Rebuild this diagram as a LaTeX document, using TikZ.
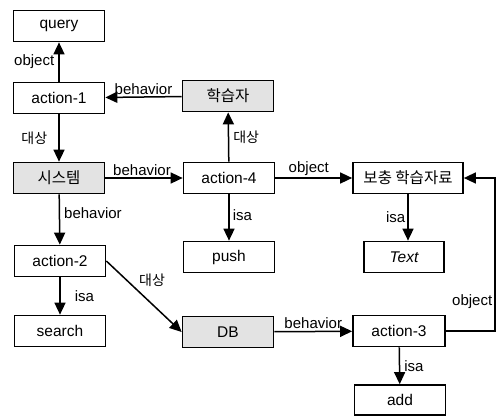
\documentclass[tikz,border=0pt]{standalone}
\usepackage{fontspec}
\setmainfont{Liberation Sans}
\newfontfamily\krfont{Noto Sans CJK KR}
\usetikzlibrary{arrows.meta}
\begin{document}
\begin{tikzpicture}[x=1pt,y=-1pt,
  box/.style={draw,line width=1.7pt,minimum width=91pt,minimum height=31pt,inner sep=0pt,font=\fontsize{15.5}{17}\selectfont,fill=white},
  shaded/.style={box,fill=gray!22},
  arr/.style={line width=1.5pt,-{Triangle[length=12pt,width=11pt]}},
  lbl/.style={font=\fontsize{15}{17}\selectfont,inner sep=2pt},
  klbl/.style={font=\fontsize{14}{17}\selectfont\krfont,inner sep=2pt}]
\useasboundingbox (0,0) rectangle (500,416);
% left column
\node[box] (query) at (59,26) {query};
\node[box] (a1) at (59,98) {action-1};
\node[shaded] (sys) at (59,178) {\krfont 시스템};
\node[box] (a2) at (60,261) {action-2};
\node[box] (search) at (60,331) {search};
% middle column
\node[shaded] (learner) at (228,96) {\krfont 학습자};
\node[box] (a4) at (229,178) {action-4};
\node[box] (push) at (229,257) {push};
\node[shaded] (db) at (228,332) {DB};
% right column
\node[box,minimum width=110pt] (supp) at (408,178) {\krfont 보충 학습자료};
\node[box,minimum width=80pt] (text) at (404,257) {\itshape Text};
\node[box,minimum width=92pt] (a3) at (399,331) {action-3};
\node[box,minimum height=30pt] (add) at (400,400) {add};
\coordinate (c1) at (495,331);
\coordinate (c2) at (495,178);
% connectors
\draw[arr] (a1) -- node[lbl,anchor=east,xshift=-2pt]{object} (query);
\draw[arr] (learner) -- node[lbl,anchor=south]{behavior} (a1);
\draw[arr] (a1) -- node[klbl,anchor=east,xshift=-9pt]{대상} (sys);
\draw[arr] (sys) -- node[lbl,anchor=south,xshift=-2pt]{behavior} (a4);
\draw[arr] (a4) -- node[klbl,anchor=west,xshift=2pt]{대상} (learner);
\draw[arr] (a4) -- node[lbl,anchor=south,xshift=-5pt]{object} (supp);
\draw[arr] (a4) -- node[lbl,anchor=west,pos=0.45,xshift=1pt]{isa} (push);
\draw[arr] (supp.south) -- node[lbl,anchor=east]{isa} (supp.south |- text.north);
\draw[arr] (sys) -- node[lbl,anchor=west,pos=0.37,xshift=2pt]{behavior} (a2);
\draw[arr] (a2) -- node[lbl,anchor=west,xshift=12pt]{isa} (search);
\draw[arr] (a2.east) -- node[klbl,anchor=south west,pos=0.4]{대상} (db.west);
\draw[arr] (db) -- node[lbl,anchor=south]{behavior} (a3);
\draw[arr] (a3) -- node[lbl,anchor=west,xshift=2pt]{isa} (add);
\draw[arr] (a3.east) -- (c1) -- node[lbl,anchor=east,pos=0.19]{object} (c2) -- (supp.east);
\end{tikzpicture}
\end{document}
